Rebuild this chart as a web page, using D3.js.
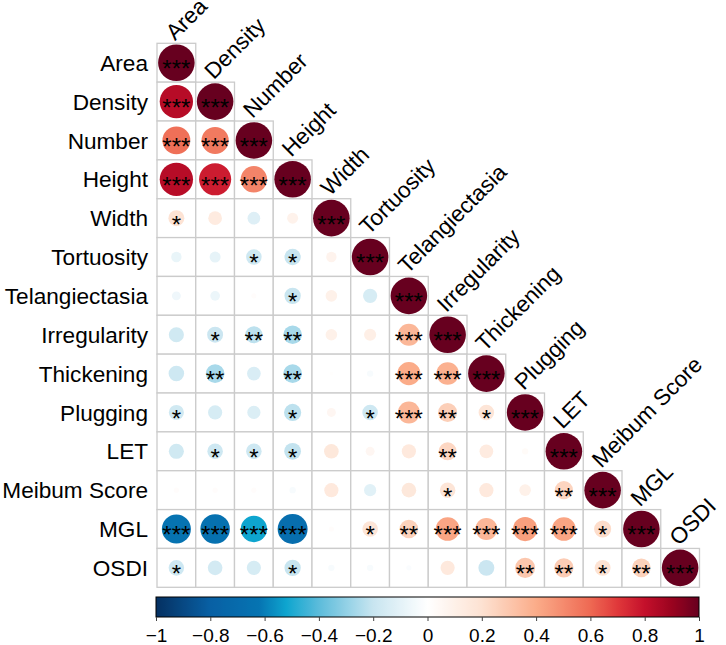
<html>

<head>
  <meta charset="utf-8">
  <title>corrplot</title>
  <style>
    body {
      margin: 0;
      background: white;
      font-family: "Liberation Sans", Arial, Helvetica, sans-serif;
    }
  </style>
</head>

<body>
  <svg id="Corr"></svg>

  <script src="https://cdn.jsdelivr.net/npm/d3@7"></script>
  <script>
    // 变量名
    var vars = ["Area", "Density", "Number", "Height", "Width", "Tortuosity", "Telangiectasia",
      "Irregularity", "Thickening", "Plugging", "LET", "Meibum Score", "MGL", "OSDI"];

    // 下三角相关系数 (第i行只有前i个值)
    var corrRows = [
      [],
      [0.83],
      [0.58, 0.55],
      [0.83, 0.77, 0.52],
      [0.19, 0.14, -0.12, 0.09],
      [-0.08, -0.09, -0.18, -0.20, 0.08],
      [-0.06, -0.07, 0.02, -0.20, 0.10, -0.15],
      [-0.17, -0.19, -0.22, -0.26, 0.10, 0.11, 0.36],
      [-0.18, -0.26, -0.14, -0.26, 0.01, -0.03, 0.40, 0.38],
      [-0.17, -0.15, -0.13, -0.22, 0.06, -0.18, 0.36, 0.27, 0.18],
      [-0.17, -0.18, -0.18, -0.21, 0.16, 0.06, 0.15, 0.24, 0.14, 0.03],
      [0.02, 0.02, 0.02, -0.03, 0.15, -0.11, 0.16, 0.18, 0.15, 0.10, 0.25],
      [-0.63, -0.65, -0.52, -0.67, 0.02, 0.18, 0.26, 0.42, 0.36, 0.44, 0.42, 0.22],
      [-0.18, -0.16, -0.15, -0.20, -0.03, -0.03, -0.02, 0.15, -0.19, 0.30, 0.28, 0.19, 0.26]
    ];

    // 显著性星号个数
    var sigRows = [
      [],
      [3],
      [3, 3],
      [3, 3, 3],
      [1, 0, 0, 0],
      [0, 0, 1, 1, 0],
      [0, 0, 0, 1, 0, 0],
      [0, 1, 2, 2, 0, 0, 3],
      [0, 2, 0, 2, 0, 0, 3, 3],
      [1, 0, 0, 1, 0, 1, 3, 2, 1],
      [0, 1, 1, 1, 0, 0, 0, 2, 0, 0],
      [0, 0, 0, 0, 0, 0, 0, 1, 0, 0, 2],
      [3, 3, 3, 3, 0, 1, 2, 3, 3, 3, 3, 1],
      [1, 0, 0, 1, 0, 0, 0, 0, 0, 2, 2, 1, 2]
    ];

    // 色标刻度
    var legendTicks = [-1, -0.8, -0.6, -0.4, -0.2, 0, 0.2, 0.4, 0.6, 0.8, 1];

    // 颜色
    var colorStops = [-1, -0.8, -0.62, -0.52, -0.4, -0.2, 0, 0.2, 0.4, 0.6, 0.7, 0.8, 0.9, 1];
    var colorList = ["#053061", "#0860a4", "#0674b2", "#0ea5cf", "#5cbcdb", "#c8e5f0", "#ffffff",
      "#fde2d2", "#fbac89", "#ee6953", "#e0383a", "#c4102b", "#9a031f", "#67001f"];

    // 尺寸
    var width = 726, height = 645;
    var grid = { left: 157, right: 699.5, top: 43.3, bottom: 587.3 };

    var svg = d3.select("#Corr")
      .attr("width", width)
      .attr("height", height);

    // 整理成单元格数组（包含对角线）
    var cells = [];
    vars.forEach(function (rowName, i) {
      for (var j = 0; j <= i; j++) {
        cells.push({
          row: rowName,
          col: vars[j],
          r: j == i ? 1 : corrRows[i][j],
          sig: j == i ? 3 : sigRows[i][j]
        });
      }
    });

    var xScale = d3.scaleBand().domain(vars).range([grid.left, grid.right]);
    var yScale = d3.scaleBand().domain(vars).range([grid.top, grid.bottom]);
    var rScale = d3.scaleSqrt().domain([0, 1]).range([0, xScale.bandwidth() * 0.472]);
    var color = d3.scaleLinear().domain(colorStops).range(colorList);

    // 格子
    svg.append("g").selectAll("rect")
      .data(cells)
      .join("rect")
      .attr("x", d => xScale(d.col))
      .attr("y", d => yScale(d.row))
      .attr("width", xScale.bandwidth())
      .attr("height", yScale.bandwidth())
      .attr("fill", "white")
      .attr("stroke", "#cbcbcb")
      .attr("stroke-width", 1.3);

    // 圆
    svg.append("g").selectAll("circle")
      .data(cells)
      .join("circle")
      .attr("cx", d => xScale(d.col) + xScale.bandwidth() / 2)
      .attr("cy", d => yScale(d.row) + yScale.bandwidth() / 2)
      .attr("r", d => rScale(Math.abs(d.r)))
      .attr("fill", d => color(d.r));

    // 星号
    svg.append("g").selectAll("text")
      .data(cells.filter(d => d.sig > 0))
      .join("text")
      .attr("x", d => xScale(d.col) + xScale.bandwidth() / 2)
      .attr("y", d => yScale(d.row) + yScale.bandwidth() / 2)
      .attr("dy", "0.6em")
      .attr("text-anchor", "middle")
      .attr("font-size", "24px")
      .attr("fill", "black")
      .text(d => "*".repeat(d.sig));

    // 行标签
    svg.append("g").selectAll("text")
      .data(vars)
      .join("text")
      .attr("x", grid.left - 9)
      .attr("y", d => yScale(d) + yScale.bandwidth() / 2)
      .attr("dy", "0.36em")
      .attr("text-anchor", "end")
      .attr("font-size", "22.6px")
      .text(d => d);

    // 列标签 (45度)
    svg.append("g").selectAll("text")
      .data(vars)
      .join("text")
      .attr("transform", function (d) {
        var cx = xScale(d) + xScale.bandwidth() / 2 - 1.5;
        var cy = yScale(d) - 2;
        return "translate(" + cx + "," + cy + ") rotate(-45)";
      })
      .attr("font-size", "22.5px")
      .text(d => d);

    // 色标
    var legend = { left: 156, right: 699, top: 597, height: 20 };
    var legendScale = d3.scaleLinear().domain([-1, 1]).range([legend.left, legend.right]);

    var grad = svg.append("defs").append("linearGradient")
      .attr("id", "corrGrad")
      .attr("x1", "0%").attr("x2", "100%")
      .attr("y1", "0%").attr("y2", "0%");
    grad.selectAll("stop")
      .data(d3.range(0, 201))
      .join("stop")
      .attr("offset", d => (d / 2) + "%")
      .attr("stop-color", d => color(-1 + d / 100));

    svg.append("rect")
      .attr("x", legend.left)
      .attr("y", legend.top)
      .attr("width", legend.right - legend.left)
      .attr("height", legend.height)
      .attr("fill", "url(#corrGrad)")
      .attr("stroke", "black")
      .attr("stroke-width", 1);

    var legendAxis = d3.axisBottom(legendScale)
      .tickValues(legendTicks)
      .tickFormat(d3.format("~g"))
      .tickSize(4)
      .tickSizeOuter(0);

    var axisG = svg.append("g")
      .attr("transform", "translate(0," + (legend.top + legend.height) + ")")
      .call(legendAxis);
    axisG.select(".domain").remove();
    axisG.selectAll("line").attr("stroke", "#444");
    axisG.selectAll("text")
      .attr("font-family", "Liberation Sans, Arial, sans-serif")
      .attr("font-size", "19px")
      .attr("fill", "black")
      .attr("y", 25)
      .attr("dy", 0);
  </script>
</body>

</html>
